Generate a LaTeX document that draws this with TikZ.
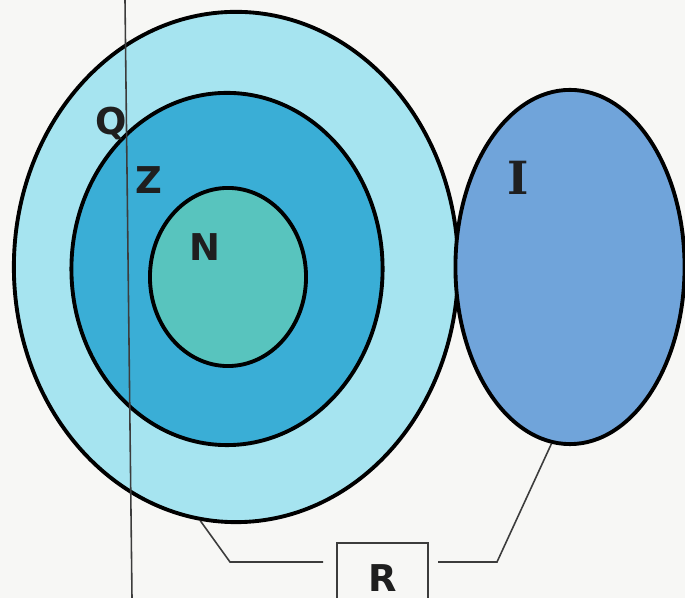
\documentclass[tikz,border=0pt]{standalone}
\usepackage{fontspec}
\setmainfont{DejaVu Sans}
\newfontfamily\slabfont{DejaVu Serif}
\usetikzlibrary{shapes.geometric}
\definecolor{qcol}{RGB}{166,228,240}
\definecolor{zcol}{RGB}{58,174,214}
\definecolor{ncol}{RGB}{88,196,190}
\definecolor{icol}{RGB}{112,164,218}
\definecolor{paper}{RGB}{247,247,245}
\definecolor{thin}{RGB}{60,60,60}
\tikzset{
  setbox/.style={ellipse, draw=black, line width=1.1pt, inner sep=0pt},
  lbl/.style={font=\fontsize{10.5}{11}\selectfont\bfseries, text=black!88, inner sep=0pt},
  conn/.style={draw=thin, line width=0.45pt},
}
\begin{document}
\begin{tikzpicture}[x=0.01cm, y=-0.01cm]
\useasboundingbox (0,0) rectangle (685,598);
\clip (0,0) rectangle (685,598);
\fill[paper] (0,0) rectangle (685,598);
% sets
\node[setbox, fill=qcol, minimum width=4.44cm, minimum height=5.10cm] (Q) at (236,267) {};
\node[setbox, fill=zcol, minimum width=3.11cm, minimum height=3.52cm] (Z) at (227,269) {};
\node[setbox, fill=ncol, minimum width=1.56cm, minimum height=1.78cm] (N) at (228,277) {};
\node[setbox, fill=icol, minimum width=2.29cm, minimum height=3.54cm] (I) at (570,267) {};
% vertical line
\coordinate (vt) at (125,0);
\coordinate (vb) at (132,598);
\draw[conn] (vt) -- (vb);
% labels
\node[lbl] (ql) at (111,124) {Q};
\node[lbl] (zl) at (149,180) {Z};
\node[lbl] (nl) at (205,247) {N};
\node[lbl, font=\fontsize{13}{13}\selectfont\slabfont\bfseries] (il) at (518,178) {I};
% R box
\node[draw=thin, line width=0.45pt, fill=paper, minimum width=0.91cm, minimum height=0.70cm, lbl, inner sep=0pt] (R) at (382.5,578) {R};
\coordinate (rl) at (323,562);
\coordinate (rr) at (438,562);
\draw[conn] (Q.-98) -- (230,562) -- (rl);
\draw[conn] (rr) -- (497,562) -- (I.-96);
\end{tikzpicture}
\end{document}
